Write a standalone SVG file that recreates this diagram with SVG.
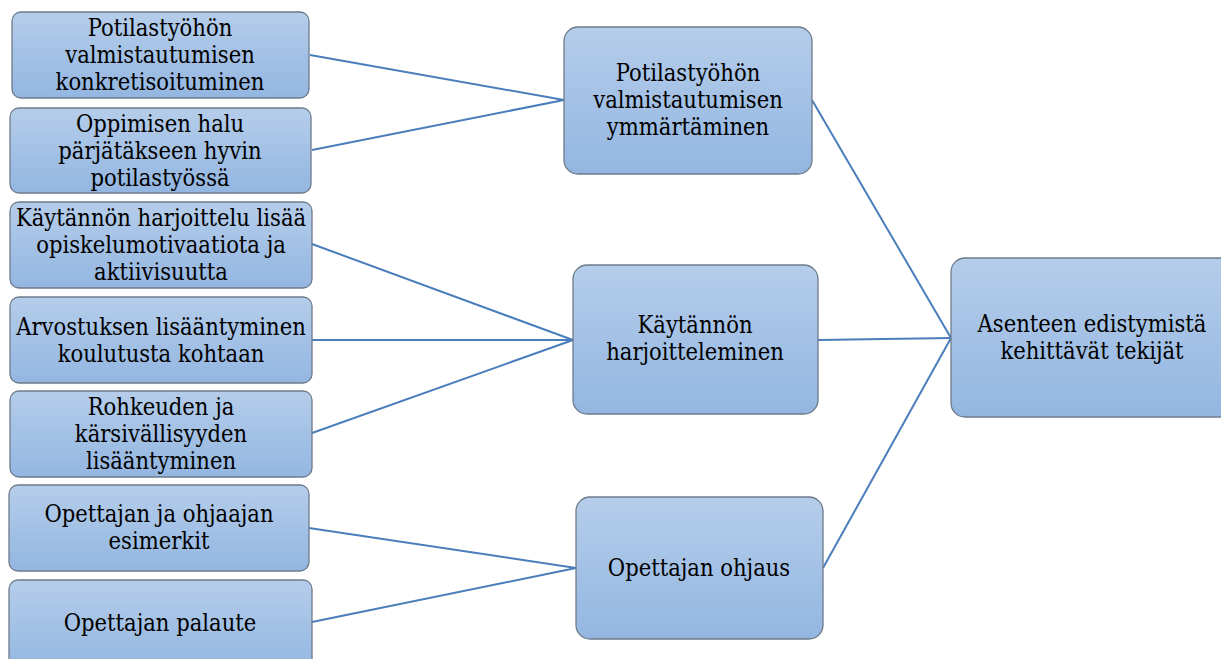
<svg xmlns="http://www.w3.org/2000/svg" width="1221" height="659" viewBox="0 0 1221 659">
  <defs>
    <linearGradient id="boxFill" x1="0" y1="0" x2="0" y2="1">
      <stop offset="0" stop-color="#b5cdea"/>
      <stop offset="1" stop-color="#93b6e1"/>
    </linearGradient>
  </defs>
  <style>
    .box { fill: url(#boxFill); stroke: #6d7b8b; stroke-width: 1.3; }
    .conn { stroke: #4a7ebb; stroke-width: 2; fill: none; }
    .lbl { font-family: "DejaVu Serif Condensed", "DejaVu Serif", serif; font-stretch: condensed; font-size: 23.5px; fill: #000000; text-anchor: middle; }
  </style>
  <rect width="1221" height="659" fill="#ffffff"/>

  <!-- connectors -->
  <g id="connectors">
    <line class="conn" x1="310" y1="55" x2="564" y2="100"/>
    <line class="conn" x1="312" y1="150" x2="564" y2="100"/>
    <line class="conn" x1="312" y1="244" x2="573" y2="340"/>
    <line class="conn" x1="312" y1="340" x2="573" y2="340"/>
    <line class="conn" x1="312" y1="433" x2="573" y2="340"/>
    <line class="conn" x1="309" y1="528" x2="576" y2="568"/>
    <line class="conn" x1="312" y1="622" x2="576" y2="568"/>
    <line class="conn" x1="812" y1="100" x2="951" y2="338"/>
    <line class="conn" x1="818" y1="340" x2="951" y2="338"/>
    <line class="conn" x1="823" y1="568" x2="951" y2="338"/>
  </g>

  <!-- left column -->
  <g id="n1">
    <rect class="box" x="12" y="12" width="297" height="86" rx="9"/>
    <text class="lbl" x="160" y="36">Potilastyöhön</text>
    <text class="lbl" x="160" y="63">valmistautumisen</text>
    <text class="lbl" x="160" y="90">konkretisoituminen</text>
  </g>
  <g id="n2">
    <rect class="box" x="10" y="108" width="301" height="85" rx="9"/>
    <text class="lbl" x="160" y="132">Oppimisen halu</text>
    <text class="lbl" x="160" y="159">pärjätäkseen hyvin</text>
    <text class="lbl" x="160" y="186">potilastyössä</text>
  </g>
  <g id="n3">
    <rect class="box" x="10" y="202" width="302" height="86" rx="9"/>
    <text class="lbl" x="161" y="226">Käytännön harjoittelu lisää</text>
    <text class="lbl" x="161" y="253">opiskelumotivaatiota ja</text>
    <text class="lbl" x="161" y="280">aktiivisuutta</text>
  </g>
  <g id="n4">
    <rect class="box" x="10" y="297" width="302" height="86" rx="9"/>
    <text class="lbl" x="161" y="335">Arvostuksen lisääntyminen</text>
    <text class="lbl" x="161" y="362">koulutusta kohtaan</text>
  </g>
  <g id="n5">
    <rect class="box" x="10" y="391" width="302" height="86" rx="9"/>
    <text class="lbl" x="161" y="415">Rohkeuden ja</text>
    <text class="lbl" x="161" y="442">kärsivällisyyden</text>
    <text class="lbl" x="161" y="469">lisääntyminen</text>
  </g>
  <g id="n6">
    <rect class="box" x="9" y="485" width="300" height="86" rx="9"/>
    <text class="lbl" x="159" y="522">Opettajan ja ohjaajan</text>
    <text class="lbl" x="159" y="549">esimerkit</text>
  </g>
  <g id="n7">
    <rect class="box" x="9" y="580" width="303" height="90" rx="9"/>
    <text class="lbl" x="160" y="631">Opettajan palaute</text>
  </g>

  <!-- middle column -->
  <g id="m1">
    <rect class="box" x="564" y="27" width="248" height="147" rx="14"/>
    <text class="lbl" x="688" y="81">Potilastyöhön</text>
    <text class="lbl" x="688" y="108">valmistautumisen</text>
    <text class="lbl" x="688" y="135">ymmärtäminen</text>
  </g>
  <g id="m2">
    <rect class="box" x="573" y="265" width="245" height="149" rx="14"/>
    <text class="lbl" x="695" y="333">Käytännön</text>
    <text class="lbl" x="695" y="360">harjoitteleminen</text>
  </g>
  <g id="m3">
    <rect class="box" x="576" y="497" width="247" height="142" rx="14"/>
    <text class="lbl" x="699" y="576">Opettajan ohjaus</text>
  </g>

  <!-- result -->
  <g id="r1">
    <rect class="box" x="951" y="258" width="285" height="159" rx="14"/>
    <text class="lbl" x="1092" y="332">Asenteen edistymistä</text>
    <text class="lbl" x="1092" y="359">kehittävät tekijät</text>
  </g>
</svg>
